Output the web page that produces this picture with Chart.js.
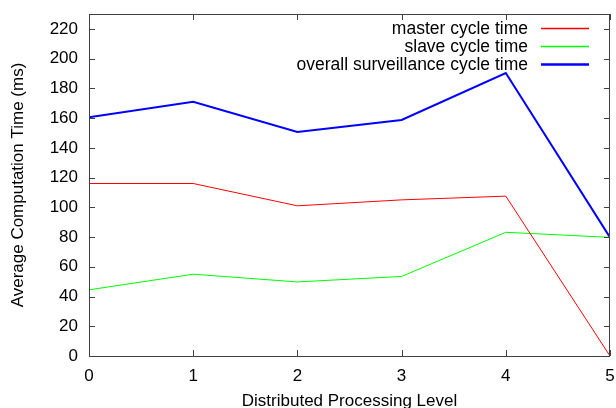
<!DOCTYPE html>
<html>
<head>
<meta charset="utf-8">
<script src="https://cdn.jsdelivr.net/npm/chart.js@4"></script>
<style>
  html, body { margin: 0; padding: 0; background: #fff; }
  .chart-container { position: relative; width: 616px; height: 408px; }
</style>
</head>
<body>
<div class="chart-container">
  <canvas id="myChart" width="616" height="408"></canvas>
</div>
<script>
const levels = [0, 1, 2, 3, 4, 5];
const masterTimes = [116, 116, 101, 105, 107.5, 0];
const slaveTimes = [44.5, 55, 49.8, 53.5, 83.2, 79.8];
const overallTimes = [160.5, 171, 150.6, 158.7, 190.3, 79.8];
const yTickValues = [0, 20, 40, 60, 80, 100, 120, 140, 160, 180, 200, 220];
const seriesColors = ["#ff0000", "#00ff00", "#0000ff"];
const seriesWidths = [1, 1, 2];

const FONT = "'Liberation Sans', Arial, sans-serif";
const AXIS_COLOR = "#404040";

const toPoints = (vals) => vals.map((v, i) => ({ x: levels[i], y: v }));

// gnuplot-style frame: border, inward ticks on all sides, axis titles, legend
const framePlugin = {
  id: "frame",
  afterDraw(chart) {
    const { ctx, chartArea: a, scales } = chart;
    const xs = scales.x, ys = scales.y;
    ctx.save();
    ctx.strokeStyle = AXIS_COLOR;
    ctx.lineWidth = 1;
    ctx.strokeRect(a.left + 0.5, a.top + 0.5, a.right - a.left - 1, a.bottom - a.top);
    ctx.beginPath();
    yTickValues.forEach(v => {
      const y = Math.round(ys.getPixelForValue(v)) + 0.5;
      ctx.moveTo(a.left, y); ctx.lineTo(a.left + 6, y);
      ctx.moveTo(a.right, y); ctx.lineTo(a.right - 6, y);
    });
    levels.forEach(v => {
      const x = Math.round(xs.getPixelForValue(v)) + 0.5;
      ctx.moveTo(x, a.bottom); ctx.lineTo(x, a.bottom - 6);
      ctx.moveTo(x, a.top); ctx.lineTo(x, a.top + 6);
    });
    ctx.stroke();

    // axis titles
    ctx.fillStyle = "#000";
    ctx.font = "17px " + FONT;
    ctx.textAlign = "center";
    ctx.textBaseline = "alphabetic";
    ctx.fillText("Distributed Processing Level", (a.left + a.right) / 2, 406);
    ctx.save();
    ctx.translate(23, (a.top + a.bottom) / 2);
    ctx.rotate(-Math.PI / 2);
    ctx.fillText("Average Computation Time (ms)", 0, 0);
    ctx.restore();

    // legend
    ctx.font = "17.5px " + FONT;
    ctx.textAlign = "right";
    ctx.textBaseline = "middle";
    chart.data.datasets.forEach((ds, i) => {
      const y = 29 + i * 18;
      ctx.fillStyle = "#000";
      ctx.fillText(ds.label, 528, y);
      ctx.strokeStyle = seriesColors[i];
      ctx.lineWidth = seriesWidths[i] + 0.3;
      ctx.beginPath();
      ctx.moveTo(541, Math.round(y) - 0.5);
      ctx.lineTo(589, Math.round(y) - 0.5);
      ctx.stroke();
    });
    ctx.restore();
  }
};

const ctx = document.getElementById("myChart");
new Chart(ctx, {
  type: "line",
  data: {
    datasets: [
      {
        label: "master cycle time",
        data: toPoints(masterTimes),
        borderColor: seriesColors[0],
        borderWidth: seriesWidths[0],
        pointRadius: 0,
        fill: false,
        tension: 0
      },
      {
        label: "slave cycle time",
        data: toPoints(slaveTimes),
        borderColor: seriesColors[1],
        borderWidth: seriesWidths[1],
        pointRadius: 0,
        fill: false,
        tension: 0
      },
      {
        label: "overall surveillance cycle time",
        data: toPoints(overallTimes),
        borderColor: seriesColors[2],
        borderWidth: seriesWidths[2],
        pointRadius: 0,
        fill: false,
        tension: 0
      }
    ]
  },
  options: {
    responsive: false,
    animation: false,
    layout: { padding: { top: 14, right: 6, left: 0, bottom: 0 } },
    plugins: {
      legend: { display: false },
      tooltip: { enabled: false }
    },
    scales: {
      x: {
        type: "linear",
        min: 0,
        max: 5,
        grid: { display: false, drawTicks: false },
        border: { display: false },
        ticks: {
          stepSize: 1,
          color: "#000",
          font: { family: FONT, size: 17 },
          padding: 10,
          maxRotation: 0
        },
        afterFit(scale) {
          scale.height = 52;
          scale.paddingLeft = 0;
          scale.paddingRight = 0;
        }
      },
      y: {
        min: 0,
        max: 230,
        grid: { display: false, drawTicks: false },
        border: { display: false },
        ticks: {
          stepSize: 20,
          color: "#000",
          font: { family: FONT, size: 17 },
          padding: 11
        },
        afterBuildTicks(scale) {
          scale.ticks = yTickValues.map(v => ({ value: v }));
        },
        afterFit(scale) {
          scale.width = 89;
          scale.paddingTop = 0;
          scale.paddingBottom = 0;
        }
      }
    }
  },
  plugins: [framePlugin]
});
</script>
</body>
</html>
